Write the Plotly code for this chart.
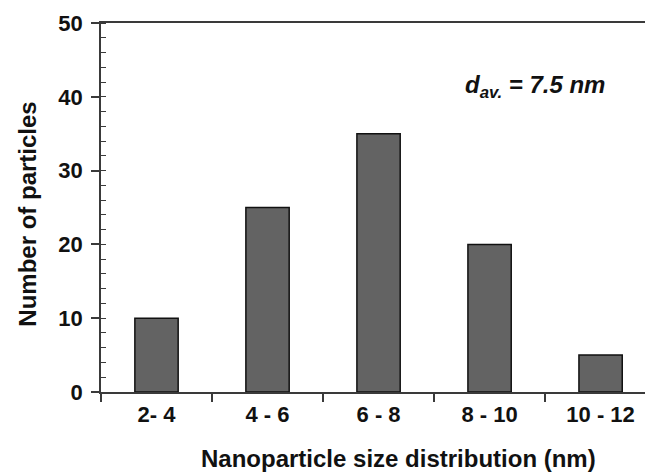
import plotly.graph_objects as go

# Particle size bins and counts
size_bins = ["2- 4", "4 - 6", "6 - 8", "8 - 10", "10 - 12"]
particle_counts = [10, 25, 35, 20, 5]
mean_diameter = 7.5

FONT = "Liberation Sans, Arial, sans-serif"
AXIS_COLOR = "#3a3a3a"
TEXT_COLOR = "#111111"

fig = go.Figure()
fig.add_trace(go.Bar(
    x=size_bins,
    y=particle_counts,
    width=0.39,
    marker=dict(color="#636363", line=dict(color="#111111", width=1.5)),
    showlegend=False,
))

fig.update_layout(
    width=645,
    height=474,
    margin=dict(l=101, r=0, t=23, b=82),
    paper_bgcolor="white",
    plot_bgcolor="white",
    font=dict(family=FONT, color=TEXT_COLOR),
    xaxis=dict(
        type="category",
        range=[-0.5, 4.4],
        tickson="boundaries",
        ticks="outside",
        ticklen=8,
        tickwidth=1.5,
        tickcolor=AXIS_COLOR,
        showline=True,
        linecolor=AXIS_COLOR,
        linewidth=1.5,
        mirror=True,
        showgrid=False,
        tickfont=dict(size=22, weight="bold"),
        ticklabelstandoff=2,
    ),
    yaxis=dict(
        range=[0, 50],
        dtick=10,
        ticks="outside",
        ticklen=8,
        tickwidth=1.5,
        tickcolor=AXIS_COLOR,
        showline=True,
        linecolor=AXIS_COLOR,
        linewidth=1.5,
        showgrid=False,
        zeroline=False,
        tickfont=dict(size=22, weight="bold"),
        ticklabelstandoff=4,
        minor=dict(dtick=2, ticks="inside", ticklen=5, tickwidth=1.2,
                   tickcolor=AXIS_COLOR, showgrid=False),
    ),
    bargap=0.61,
)

# Axis titles
fig.add_annotation(
    x=0.546, y=-0.18, xref="paper", yref="paper",
    xanchor="center", yanchor="middle",
    text="<b>Nanoparticle size distribution (nm)</b>",
    showarrow=False,
    font=dict(size=24, family=FONT, color=TEXT_COLOR),
)
fig.add_annotation(
    x=-0.135, y=0.482, xref="paper", yref="paper",
    xanchor="center", yanchor="middle", textangle=-90,
    text="<b>Number of particles</b>",
    showarrow=False,
    font=dict(size=24, family=FONT, color=TEXT_COLOR),
)

# Mean diameter label
fig.add_annotation(
    x=2.76, y=41.4, xref="x", yref="y",
    xanchor="left", yanchor="middle",
    text=f"<b><i>d</i></b><sub><b><i>av.</i></b></sub><b><i> = {mean_diameter} nm</i></b>",
    showarrow=False,
    font=dict(size=24, family=FONT, color=TEXT_COLOR),
)

fig.write_html("out.html")
